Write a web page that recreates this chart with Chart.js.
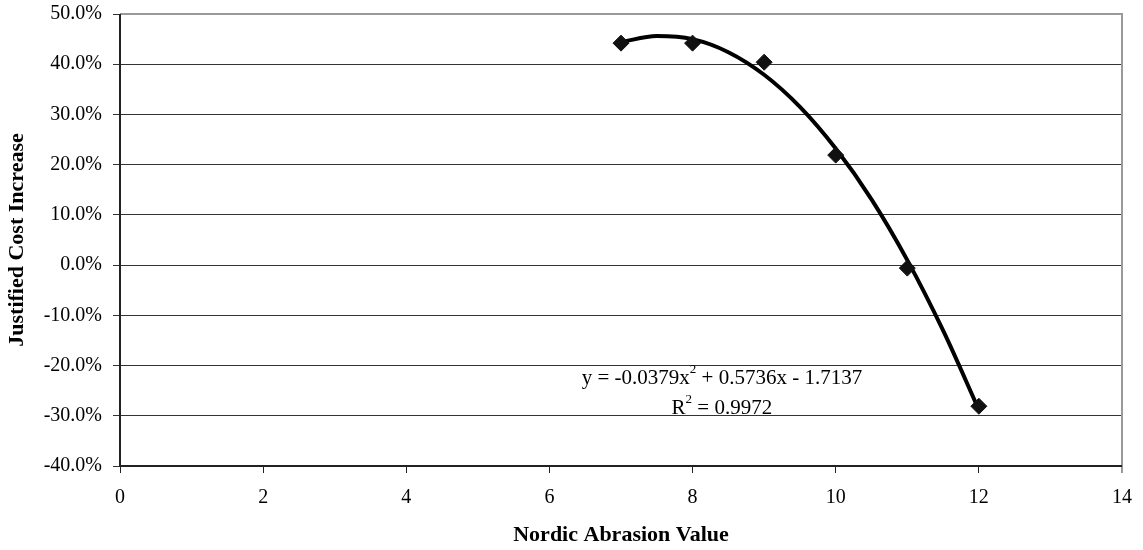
<!DOCTYPE html>
<html>
<head>
<meta charset="utf-8">
<script src="https://cdn.jsdelivr.net/npm/chart.js@4/dist/chart.umd.min.js"></script>
<style>
  html, body { margin: 0; padding: 0; background: #fff; }
  #wrap { width: 1143px; height: 550px; }
</style>
</head>
<body>
<div id="wrap"><canvas id="chart" width="1143" height="550"></canvas></div>
<script>
// Measured points (Nordic abrasion value vs justified cost increase, %)
const abrasion = [7, 8, 9, 10, 11, 12];
const costIncrease = [44.2, 44.2, 40.4, 21.9, -0.6, -28.1];

// Trendline
const trendX = [7, 7.5, 8, 8.5, 9, 9.5, 10, 10.5, 11, 11.5, 12];
const trendY = [44.4, 45.6, 45.0, 42.4, 37.9, 31.5, 23.2, 13.1, 1.0, -13.0, -28.8];

const equationLines = ['y = -0.0379x', ' + 0.5736x - 1.7137'];
const rSquaredText = ' = 0.9972';

const serif = "'Liberation Serif', 'Times New Roman', serif";

// Draws the grey frame on top/right and the black axes
const framePlugin = {
    id: 'frame',
    afterDraw(chart) {
        const { ctx, chartArea: a } = chart;
        ctx.save();
        ctx.strokeStyle = '#9a9a9a';
        ctx.lineWidth = 2;
        ctx.beginPath();
        ctx.moveTo(a.left, a.top);
        ctx.lineTo(a.right, a.top);
        ctx.lineTo(a.right, a.bottom + 7);
        ctx.stroke();
        ctx.strokeStyle = '#222';
        ctx.beginPath();
        ctx.moveTo(a.left, a.top);
        ctx.lineTo(a.left, a.bottom);
        ctx.lineTo(a.right, a.bottom);
        ctx.stroke();
        ctx.restore();
    }
};

// Trendline equation label with superscripts
const equationPlugin = {
    id: 'equation',
    afterDatasetsDraw(chart) {
        const { ctx, scales } = chart;
        const cx = scales.x.getPixelForValue(8.41);
        const y1 = scales.y.getPixelForValue(-22.5);
        const y2 = scales.y.getPixelForValue(-28.5);
        ctx.save();
        ctx.fillStyle = '#000';
        ctx.textBaseline = 'middle';
        ctx.textAlign = 'left';
        const big = '21px ' + serif;
        const small = '13px ' + serif;

        ctx.font = big;
        const w1 = ctx.measureText(equationLines[0]).width;
        const w3 = ctx.measureText(equationLines[1]).width;
        ctx.font = small;
        const w2 = ctx.measureText('2').width;
        let x = cx - (w1 + w2 + w3) / 2;
        ctx.font = big;
        ctx.fillText(equationLines[0], x, y1);
        x += w1;
        ctx.font = small;
        ctx.fillText('2', x, y1 - 9);
        x += w2;
        ctx.font = big;
        ctx.fillText(equationLines[1], x, y1);

        const wr = ctx.measureText('R').width;
        const wv = ctx.measureText(rSquaredText).width;
        x = cx - (wr + w2 + wv) / 2;
        ctx.fillText('R', x, y2);
        x += wr;
        ctx.font = small;
        ctx.fillText('2', x, y2 - 9);
        x += w2;
        ctx.font = big;
        ctx.fillText(rSquaredText, x, y2);
        ctx.restore();
    }
};

const ctx = document.getElementById('chart').getContext('2d');
new Chart(ctx, {
    type: 'scatter',
    data: {
        datasets: [
            {
                label: 'Trend',
                data: trendX.map((x, i) => ({ x: x, y: trendY[i] })),
                showLine: true,
                borderColor: '#000',
                borderWidth: 4,
                pointRadius: 0,
                cubicInterpolationMode: 'monotone',
                order: 2
            },
            {
                label: 'Cost increase',
                data: abrasion.map((x, i) => ({ x: x, y: costIncrease[i] })),
                pointStyle: 'rectRot',
                pointRadius: 8,
                backgroundColor: '#111',
                borderColor: '#111',
                borderWidth: 1,
                order: 1
            }
        ]
    },
    options: {
        responsive: false,
        animation: false,
        layout: { padding: { top: 14, right: 21, left: 0, bottom: 0 } },
        plugins: {
            legend: { display: false },
            tooltip: { enabled: false }
        },
        scales: {
            x: {
                type: 'linear',
                min: 0,
                max: 14,
                ticks: {
                    stepSize: 2,
                    color: '#000',
                    font: { family: serif, size: 20 },
                    padding: 13
                },
                grid: {
                    drawOnChartArea: false,
                    color: '#222',
                    tickLength: 7
                },
                border: { display: false },
                title: {
                    display: true,
                    text: 'Nordic Abrasion Value',
                    color: '#000',
                    font: { family: serif, size: 22, weight: 'bold' },
                    padding: { top: 0, bottom: 1 }
                },
                afterFit(scale) {
                    scale.height = 84;
                    scale.paddingLeft = 0;
                    scale.paddingRight = 0;
                }
            },
            y: {
                min: -40,
                max: 50,
                ticks: {
                    stepSize: 10,
                    color: '#000',
                    font: { family: serif, size: 20 },
                    padding: 11,
                    callback: v => v.toFixed(1) + '%'
                },
                grid: {
                    color: '#333',
                    lineWidth: 1,
                    tickLength: 7
                },
                border: { display: false },
                title: {
                    display: true,
                    text: 'Justified Cost Increase',
                    color: '#000',
                    font: { family: serif, size: 22, weight: 'bold' },
                    padding: { top: 4, bottom: 0 }
                },
                afterFit(scale) {
                    scale.width = 120;
                    scale.paddingTop = 0;
                    scale.paddingBottom = 0;
                }
            }
        }
    },
    plugins: [framePlugin, equationPlugin]
});
</script>
</body>
</html>
